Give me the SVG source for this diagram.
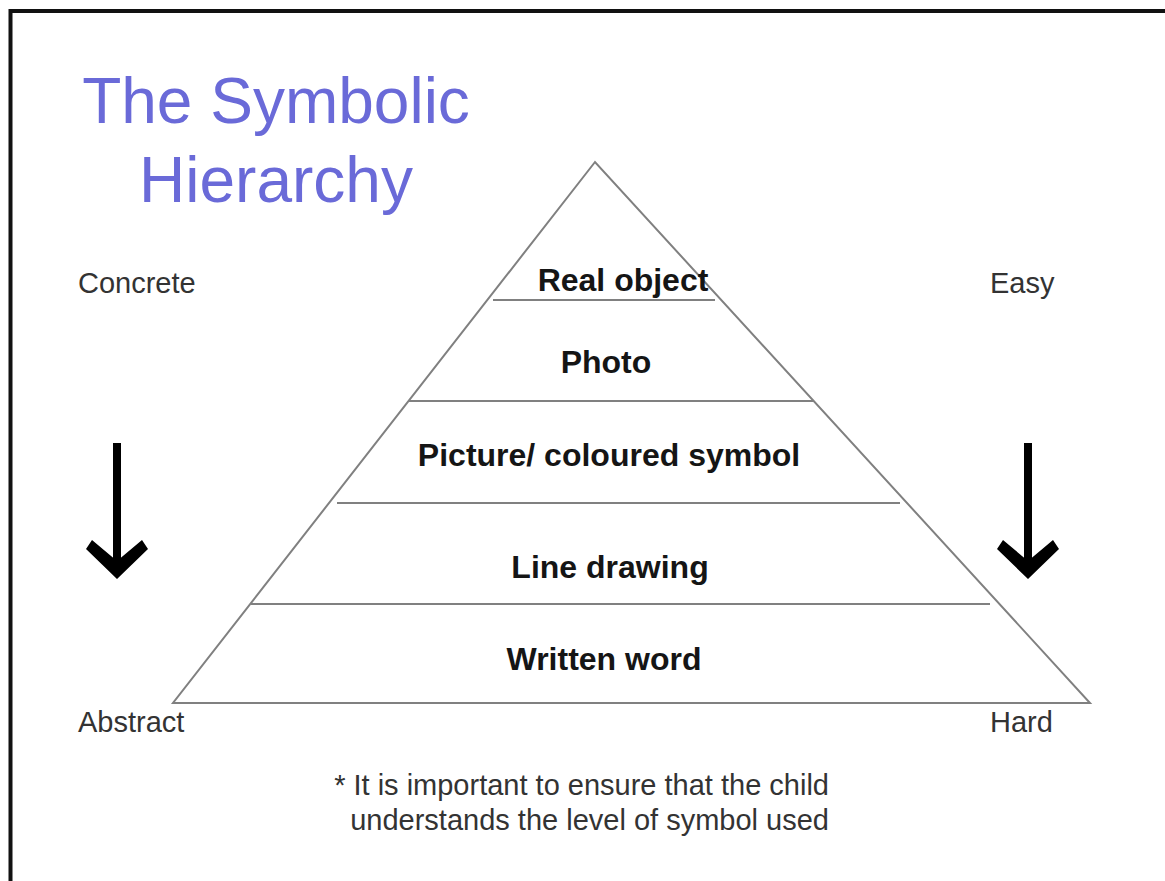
<svg xmlns="http://www.w3.org/2000/svg" width="1165" height="881" viewBox="0 0 1165 881">
<style>
.title{font-family:"Liberation Sans",Arial,sans-serif;font-size:64px;fill:#6a6ad8;text-anchor:middle}
.lvl{font-family:"Liberation Sans",Arial,sans-serif;font-size:32px;font-weight:bold;fill:#151515;text-anchor:middle}
.side{font-family:"Liberation Sans",Arial,sans-serif;font-size:29px;fill:#333}
.note{font-family:"Liberation Sans",Arial,sans-serif;font-size:29px;fill:#333;text-anchor:end}
.edge{stroke:#808080;stroke-width:2;fill:none}
.arrow{fill:#000}
</style>
<rect x="0" y="0" width="1165" height="881" fill="#fff"/>
<path d="M10.5,881 V11 H1165" fill="none" stroke="#111" stroke-width="4"/>
<g id="title">
<text class="title" x="276" y="123">The Symbolic</text>
<text class="title" x="276" y="202">Hierarchy</text>
</g>
<g id="pyramid">
<polygon class="edge" points="595,162 173,703 1090,703"/>
</g>
<g id="connectors">
<line class="edge" x1="493" y1="300" x2="715" y2="300"/>
<line class="edge" x1="409" y1="401" x2="814" y2="401"/>
<line class="edge" x1="337" y1="503" x2="900" y2="503"/>
<line class="edge" x1="251" y1="604" x2="990" y2="604"/>
</g>
<g id="level-real-object"><text class="lvl" x="623" y="291">Real object</text></g>
<g id="level-photo"><text class="lvl" x="606" y="373">Photo</text></g>
<g id="level-picture"><text class="lvl" x="609" y="466">Picture/ coloured symbol</text></g>
<g id="level-line-drawing"><text class="lvl" x="610" y="578">Line drawing</text></g>
<g id="level-written-word"><text class="lvl" x="604" y="670">Written word</text></g>
<g id="label-concrete"><text class="side" x="78" y="293">Concrete</text></g>
<g id="label-easy"><text class="side" x="990" y="293">Easy</text></g>
<g id="label-abstract"><text class="side" x="78" y="732">Abstract</text></g>
<g id="label-hard"><text class="side" x="990" y="732">Hard</text></g>
<g id="arrow-left">
<rect class="arrow" x="113" y="443" width="8" height="125"/>
<path class="arrow" d="M117,579 L86,549 L92,540 L117,561 L142,540 L148,549 Z"/>
</g>
<g id="arrow-right">
<rect class="arrow" x="1024" y="443" width="8" height="125"/>
<path class="arrow" d="M1028,579 L997,549 L1003,540 L1028,561 L1053,540 L1059,549 Z"/>
</g>
<g id="note">
<text class="note" x="829" y="795">* It is important to ensure that the child</text>
<text class="note" x="829" y="830">understands the level of symbol used</text>
</g>
</svg>
